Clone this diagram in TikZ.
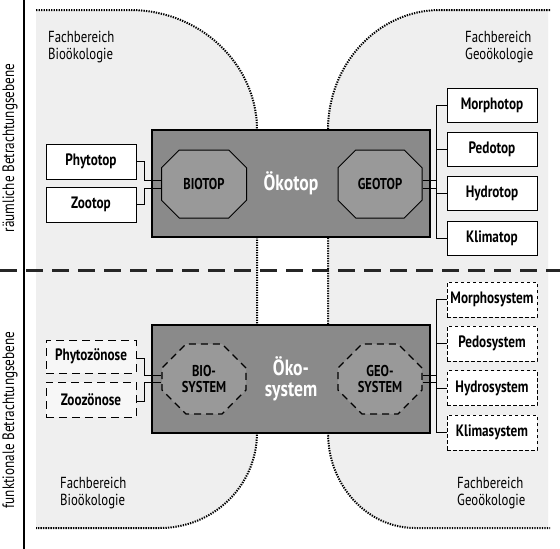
\documentclass[tikz,border=0pt]{standalone}
\usepackage{fontspec}
\setmainfont{PT Sans}[FakeStretch=0.8]
\usetikzlibrary{shapes.misc,calc}
\definecolor{bgl}{HTML}{EFEFEF}
\definecolor{boxd}{HTML}{8A8A8A}
\definecolor{octf}{HTML}{999999}
\tikzset{
  region/.style={fill=bgl, draw=none},
  dotline/.style={line width=2pt, dash pattern=on 1.3pt off 1.2pt, black},
  bigbox/.style={draw=black, line width=2pt, fill=boxd, text=white, font=\bfseries\fontsize{22}{21}\selectfont, align=center, inner sep=0pt},
  octa/.style={chamfered rectangle, chamfered rectangle xsep=12pt, chamfered rectangle ysep=12pt, draw=black, line width=1pt, fill=octf, font=\bfseries\fontsize{15.7}{16.5}\selectfont, align=center, inner sep=0pt},
  octd/.style={octa, draw=black, dash pattern=on 7pt off 5pt, line width=1.1pt},
  smallbox/.style={draw=black, line width=1pt, fill=white, minimum width=90pt, inner sep=0pt, font=\fontsize{16.5}{17}\selectfont\bfseries},
  dbox/.style={smallbox, dash pattern=on 8pt off 5pt, fill=white!50!bgl},
  sbox/.style={smallbox, dash pattern=on 3.5pt off 2.5pt},
  conn/.style={draw=black, line width=1pt},
  lbl/.style={font=\fontsize{16}{16.5}\selectfont, align=left, inner sep=0pt, anchor=north west},
  side/.style={font=\fontsize{16.5}{18}\selectfont, rotate=90, inner sep=0pt}
}
\begin{document}
\begin{tikzpicture}[x=1pt,y=-1pt]
\useasboundingbox (0,0) rectangle (560,549);
\fill[white] (0,0) rectangle (560,549);
% regions
\path[region] (36,10) -- (130,10) .. controls (200,10) and (257,64) .. (257,130) -- (257,433) .. controls (257,485) and (214,528) .. (160,528) -- (36,528) -- cycle;
\path[region] (548,10) -- (440,10) .. controls (378,10) and (328,64) .. (328,130) -- (328,433) .. controls (328,485) and (367,528) .. (415,528) -- (548,528) -- cycle;
\draw[dotline] (36,10) -- (130,10) .. controls (200,10) and (257,64) .. (257,130) -- (257,433) .. controls (257,485) and (214,528) .. (160,528) -- (36,528);
\draw[dotline] (550,10) -- (440,10) .. controls (378,10) and (328,64) .. (328,130) -- (328,433) .. controls (328,485) and (367,528) .. (415,528) -- (550,528);
% axis lines
\coordinate (vt) at (24,0);
\coordinate (vb) at (24,549);
\draw[line width=1.3pt] (vt) -- (vb);
\coordinate (dl) at (0,270);
\coordinate (dr) at (560,270);
\draw[line width=3pt, dash pattern=on 17pt off 9pt, black!85] (dl) -- (dr);
% side labels
\node[side] (s1) at (10,148) {räumliche Betrachtungsebene};
\node[side] (s2) at (10,420) {funktionale Betrachtungsebene};
% Fachbereich labels
\node[lbl] (f1) at (48,31) {Fachbereich\\Bioökologie};
\node[lbl] (f2) at (465,31) {Fachbereich\\Geoökologie};
\node[lbl] (f3) at (60,477) {Fachbereich\\Bioökologie};
\node[lbl] (f4) at (457,477) {Fachbereich\\Geoökologie};
% upper part
\node[bigbox, minimum width=278pt, minimum height=107pt] (oekotop) at (291,183.5) {Ökotop};
\node[octa, minimum width=85pt, minimum height=68pt] (biotop) at (204,184) {BIOTOP};
\node[octa, minimum width=84pt, minimum height=68pt] (geotop) at (380,184) {GEOTOP};
\node[smallbox, minimum height=35pt] (phyto) at (91,161.5) {Phytotop};
\node[smallbox, minimum height=35pt] (zoo) at (91,204.5) {Zootop};
\node[smallbox, minimum height=34pt] (morpho) at (492,105) {Morphotop};
\node[smallbox, minimum height=34pt] (pedo) at (492,149) {Pedotop};
\node[smallbox, minimum height=34pt] (hydro) at (492,193) {Hydrotop};
\node[smallbox, minimum height=34pt] (klima) at (492,238) {Klimatop};
\coordinate (bx) at (436,0);
\coordinate (lx) at (144,0);
\draw[conn] (phyto.east) -- (phyto.east -| lx) |- ([yshift=4pt]biotop.west);
\draw[conn] (zoo.east) -- (zoo.east -| lx) |- ([yshift=-4pt]biotop.west);
\draw[conn] ([yshift=4pt]geotop.east) -- ([yshift=4pt]geotop.east -| bx);
\draw[conn] ([yshift=-4pt]geotop.east) -- ([yshift=-4pt]geotop.east -| bx);
\draw[conn] (morpho.west) -- (morpho.west -| bx) -- (klima.west -| bx) -- (klima.west);
\draw[conn] (pedo.west) -- (pedo.west -| bx);
\draw[conn] (hydro.west) -- (hydro.west -| bx);
% lower part
\node[bigbox, minimum width=278pt, minimum height=108pt] (oekosys) at (291,379) {Öko-\\system};
\node[octd, minimum width=84pt, minimum height=70pt] (biosys) at (204,379) {BIO-\\SYSTEM};
\node[octd, minimum width=84pt, minimum height=70pt] (geosys) at (380,379) {GEO-\\SYSTEM};
\node[dbox, minimum height=33pt] (phytoz) at (91,356.5) {Phytozönose};
\node[dbox, minimum height=35pt] (zooz) at (91,399.5) {Zoozönose};
\node[sbox, minimum height=35pt] (morphos) at (492,299.5) {Morphosystem};
\node[sbox, minimum height=35pt] (pedos) at (492,343.5) {Pedosystem};
\node[sbox, minimum height=35pt] (hydros) at (492,388) {Hydrosystem};
\node[sbox, minimum height=35pt] (klimas) at (492,432.5) {Klimasystem};
\draw[conn] ([yshift=-1.5pt]phytoz.east) -- ([yshift=-1.5pt]phytoz.east -| lx) |- ([yshift=3.5pt]biosys.west);
\draw[conn] ([yshift=-1.5pt]zooz.east) -- ([yshift=-1.5pt]zooz.east -| lx) |- ([yshift=-3.5pt]biosys.west);
\draw[conn] ([yshift=3.5pt]geosys.east) -- ([yshift=3.5pt]geosys.east -| bx);
\draw[conn] ([yshift=-3.5pt]geosys.east) -- ([yshift=-3.5pt]geosys.east -| bx);
\draw[conn] (morphos.west) -- (morphos.west -| bx) -- (klimas.west -| bx) -- (klimas.west);
\draw[conn] (pedos.west) -- (pedos.west -| bx);
\draw[conn] (hydros.west) -- (hydros.west -| bx);
\end{tikzpicture}
\end{document}
